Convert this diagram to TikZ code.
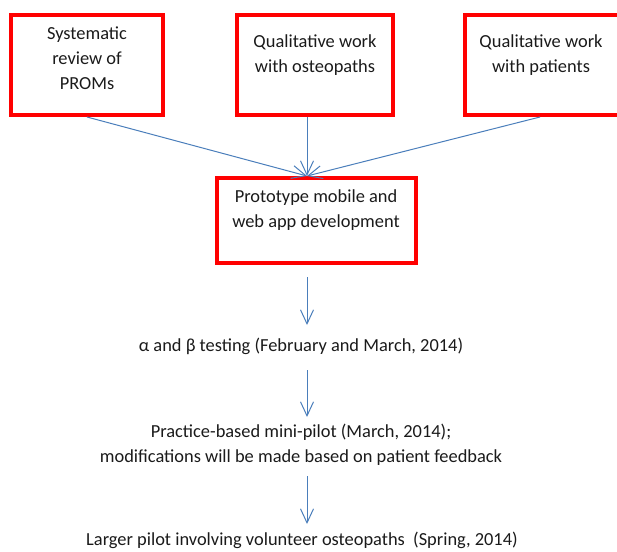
\documentclass[tikz,border=0pt]{standalone}
\usepackage{fontspec}
\setmainfont{Carlito}
\usetikzlibrary{arrows.meta}
\definecolor{boxred}{HTML}{FF0000}
\definecolor{linkblue}{HTML}{4A7EBB}
\definecolor{txt}{HTML}{1A1A1A}
\begin{document}
\begin{tikzpicture}[x=1pt,y=-1pt,
  redbox/.style={draw=boxred, line width=4pt, inner sep=0pt},
  lbl/.style={align=center, text=txt, font=\fontsize{18.4}{25}\selectfont, inner sep=0pt},
  link/.style={draw=linkblue, line width=1pt, -{Straight Barb[length=14pt, width=13pt]}}]
\useasboundingbox (0,0) rectangle (617,551);
% boxes
\node[redbox, minimum width=152pt, minimum height=100pt] (b1) at (87,65) {};
\node[redbox, minimum width=156pt, minimum height=100pt] (b2) at (315,65) {};
\node[redbox, minimum width=156pt, minimum height=100pt] (b3) at (543,65) {};
\node[redbox, minimum width=199pt, minimum height=85pt] (b4) at (316.5,220.5) {};
% box texts
\node[lbl] (t1) at (87,58) {Systematic\\review of\\PROMs};
\node[lbl] (t2) at (315,55) {Qualitative work\\with osteopaths};
\node[lbl] (t3) at (541,55) {Qualitative work\\with patients};
\node[lbl] (t4) at (316,210) {Prototype mobile and\\web app development};
% flow texts
\node[lbl] (s1) at (301,346) {α and β testing (February and March, 2014)};
\node[lbl] (s2) at (301,445) {Practice-based mini-pilot (March, 2014);\\modifications will be made based on patient feedback};
\node[lbl] (s3) at (302,540) {Larger pilot involving volunteer osteopaths\ \ (Spring, 2014)};
% coordinates
\coordinate (m) at (307,176);
\coordinate (c2) at (307,117);
\coordinate (c3) at (540,117);
\coordinate (a1s) at (307,277);
\coordinate (a1e) at (307,325);
\coordinate (a2s) at (307,370);
\coordinate (a2e) at (307,417);
\coordinate (a3s) at (307,476);
\coordinate (a3e) at (307,524);
% connectors
\draw[link] (b1.south) -- (m);
\draw[link] (c2) -- (m);
\draw[link] (c3) -- (m);
\draw[link] (a1s) -- (a1e);
\draw[link] (a2s) -- (a2e);
\draw[link] (a3s) -- (a3e);
\end{tikzpicture}
\end{document}
